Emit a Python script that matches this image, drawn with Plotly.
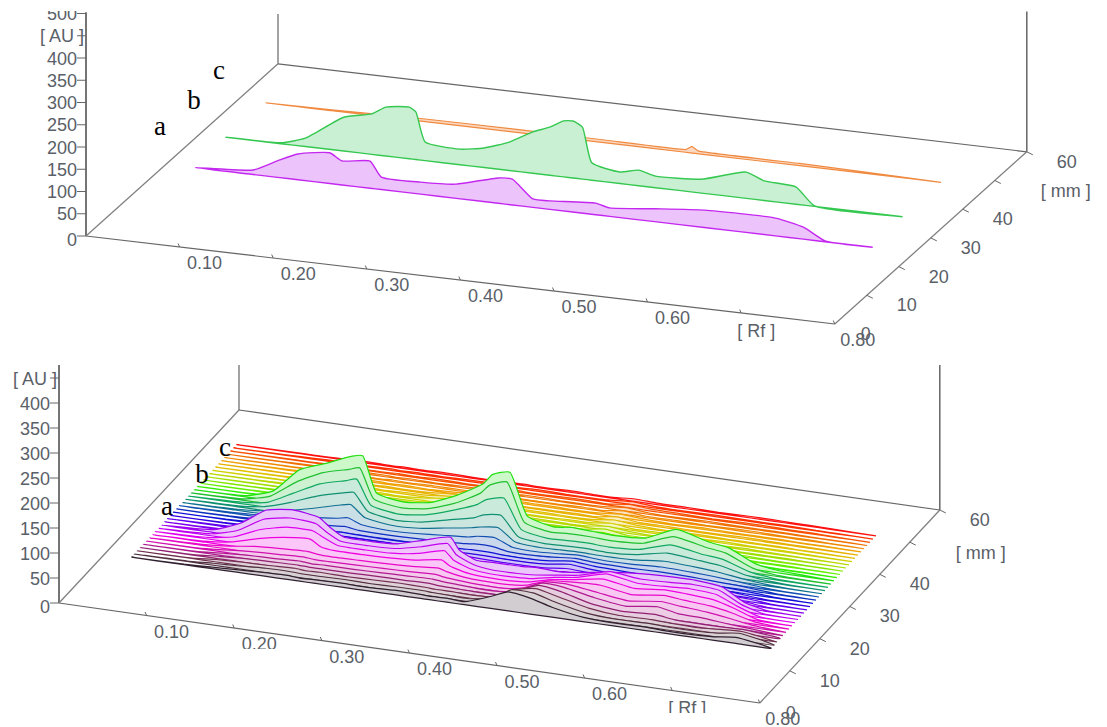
# -*- coding: utf-8 -*-
"""Two densitogram panels: selected tracks a, b, c on top, all tracks below."""
import plotly.graph_objects as go

# --- tick labels
AU_TICKS_TOP = [0, 50, 100, 150, 200, 250, 300, 350, 400, 500]
AU_TICKS_BOTTOM = [0, 50, 100, 150, 200, 250, 300, 350, 400]
RF_TICKS = [0.10, 0.20, 0.30, 0.40, 0.50, 0.60]
MM_TICKS = [10, 20, 30, 40, 60]

# --- top panel, the three selected tracks
MM_A = 25
MM_B = 35.5
MM_C = 47.5

RF_A = [0.031, 0.093, 0.119, 0.141, 0.175, 0.188, 0.218, 0.230, 0.272, 0.310, 0.355, 0.370, 0.392,
        0.410, 0.459, 0.474, 0.522, 0.575, 0.651, 0.681, 0.704, 0.755]
AU_A = [0, 10, 37, 58, 69, 54, 61, 28, 27, 32, 57, 58, 19, 19, 26, 19, 29, 39, 40, 27, 2, 0]

RF_B = [0.028, 0.087, 0.113, 0.154, 0.184, 0.199, 0.224, 0.231, 0.241, 0.278, 0.304, 0.331, 0.356,
        0.374, 0.389, 0.399, 0.409, 0.419, 0.449, 0.469, 0.487, 0.536, 0.584, 0.603, 0.637, 0.657, 0.751]
AU_B = [0, 2, 19, 76, 91, 110, 116, 107, 42, 35, 44, 64, 93, 108, 126, 128, 117, 39, 26, 35, 26, 31,
        59, 44, 39, 1, 0]

RF_C = [0.030, 0.100, 0.200, 0.300, 0.400, 0.478, 0.485, 0.492, 0.600, 0.700, 0.751]
AU_C = [0, 2, 6, 7, 6, 6, 15, 6, 5, 2, 0]

# --- bottom panel, all tracks on one Rf grid
RF_GRID = [0.03, 0.09, 0.12, 0.15, 0.18, 0.21, 0.222, 0.238, 0.27, 0.30, 0.33, 0.36, 0.37, 0.39,
           0.41, 0.44, 0.46, 0.485, 0.51, 0.545, 0.58, 0.617, 0.64, 0.67, 0.695, 0.72, 0.76]

TRACK_15 = [0, 1, 3, 5, 7, 8, 6, 7, 8, 7, 9, 8, 7, 8, 6, 24, 38, 32, 20, 9, 6, 7, 5, 5, 7, 12, 1]
TRACK_16 = [0, 1, 4, 6, 9, 9, 8, 8, 9, 8, 9, 9, 8, 7, 6, 14, 36, 36, 24, 11, 7, 8, 6, 6, 8, 14, 1]
TRACK_17 = [0, 1, 5, 7, 8, 10, 8, 9, 8, 9, 10, 9, 8, 8, 7, 10, 30, 38, 28, 14, 8, 9, 7, 6, 9, 11, 0]
TRACK_18 = [0, 1, 5, 8, 9, 10, 9, 9, 9, 10, 10, 11, 9, 8, 7, 8, 22, 38, 32, 16, 10, 13, 8, 7, 7, 8, 1]
TRACK_19 = [0, 1, 5, 8, 9, 11, 9, 10, 10, 11, 12, 13, 11, 9, 7, 8, 16, 36, 34, 22, 14, 22, 14, 12, 8, 5, 0]
TRACK_20 = [0, 1, 5, 9, 11, 13, 11, 11, 12, 13, 14, 16, 13, 10, 8, 8, 14, 32, 34, 26, 18, 26, 22, 18, 12, 5, 0]
TRACK_21 = [0, 2, 6, 13, 16, 18, 15, 14, 15, 16, 18, 22, 17, 11, 9, 9, 13, 28, 32, 34, 24, 32, 28, 24, 16, 5, 0]
TRACK_22 = [0, 2, 8, 22, 32, 36, 24, 20, 20, 21, 24, 32, 22, 13, 10, 10, 13, 24, 30, 40, 30, 36, 34, 30, 18, 3, 0]
TRACK_23 = [0, 3, 12, 34, 46, 46, 36, 24, 23, 24, 31, 44, 28, 15, 11, 11, 13, 22, 28, 44, 34, 36, 38, 34, 16, 2, 0]
TRACK_24 = [0, 4, 18, 48, 58, 54, 40, 26, 25, 27, 38, 52, 32, 17, 12, 12, 14, 20, 26, 42, 36, 38, 40, 36, 14, 2, 0]
TRACK_25 = [0, 6, 26, 60, 68, 60, 44, 28, 27, 30, 45, 58, 35, 19, 20, 20, 22, 20, 25, 34, 40, 42, 42, 36, 12, 2, 0]
TRACK_26 = [0, 2, 6, 14, 20, 20, 14, 14, 14, 14, 16, 18, 14, 10, 9, 10, 9, 14, 12, 10, 10, 9, 8, 8, 5, 1, 0]
TRACK_27 = [0, 2, 4, 7, 8, 9, 9, 8, 8, 8, 9, 10, 10, 9, 8, 8, 9, 14, 12, 10, 9, 9, 8, 7, 5, 1, 0]
TRACK_28 = [0, 1, 3, 5, 6, 7, 7, 7, 7, 7, 8, 9, 9, 9, 8, 8, 10, 16, 12, 9, 8, 8, 8, 7, 3, 1, 0]
TRACK_29 = [0, 1, 3, 4, 6, 7, 8, 7, 6, 7, 8, 9, 10, 10, 8, 8, 10, 16, 12, 10, 9, 9, 8, 6, 4, 1, 0]
TRACK_30 = [0, 1, 3, 5, 8, 11, 13, 9, 8, 9, 11, 13, 15, 15, 9, 9, 11, 15, 12, 11, 12, 11, 9, 7, 4, 1, 0]
TRACK_31 = [0, 2, 4, 8, 14, 20, 24, 14, 10, 12, 16, 20, 24, 26, 12, 10, 12, 15, 12, 12, 15, 13, 11, 7, 3, 1, 0]
TRACK_32 = [0, 2, 6, 14, 26, 40, 44, 22, 14, 16, 24, 32, 36, 40, 16, 12, 13, 14, 13, 14, 20, 17, 14, 7, 3, 1, 0]
TRACK_33 = [0, 2, 8, 24, 44, 58, 62, 28, 18, 22, 34, 46, 54, 58, 20, 14, 15, 16, 14, 18, 30, 24, 20, 8, 3, 1, 0]
TRACK_34 = [0, 3, 10, 36, 62, 76, 82, 34, 24, 30, 46, 66, 78, 86, 28, 18, 19, 20, 18, 22, 40, 30, 26, 9, 3, 1, 0]
TRACK_35 = [0, 3, 16, 52, 78, 92, 98, 40, 30, 36, 54, 82, 100, 112, 36, 24, 26, 26, 24, 28, 50, 38, 32, 10, 3, 1, 0]
TRACK_36 = [0, 3, 20, 70, 90, 112, 116, 45, 35, 42, 64, 95, 115, 125, 42, 28, 32, 30, 28, 32, 58, 42, 36, 12, 5, 3, 0]
TRACK_37 = [0, 1, 6, 30, 40, 46, 50, 12, 5, 5, 12, 30, 50, 55, 8, 4, 4, 8, 6, 4, 6, 5, 3, 2, 1, 1, 0]
TRACK_38 = [0, 1, 2, 4, 5, 5, 4, 3, 2, 3, 3, 3, 3, 3, 2, 2, 3, 9, 4, 3, 3, 3, 2, 2, 2, 1, 0]
TRACK_39 = [0, 1, 2, 3, 2, 3, 2, 3, 2, 3, 2, 3, 3, 2, 3, 2, 3, 9, 4, 2, 3, 2, 3, 2, 1, 1, 0]
TRACK_40 = [0, 1, 1, 2, 3, 2, 3, 2, 4, 8, 4, 2, 3, 2, 2, 3, 3, 9, 3, 3, 2, 3, 2, 2, 2, 1, 0]
TRACK_41 = [0, 1, 2, 2, 2, 3, 2, 3, 4, 10, 5, 2, 2, 3, 3, 2, 3, 8, 4, 2, 3, 2, 3, 2, 1, 1, 0]
TRACK_42 = [0, 1, 1, 2, 3, 2, 3, 2, 5, 11, 5, 3, 2, 2, 2, 3, 3, 8, 3, 3, 2, 3, 2, 2, 2, 1, 0]
TRACK_43 = [0, 1, 2, 3, 2, 3, 2, 3, 4, 9, 4, 2, 3, 3, 3, 2, 3, 8, 4, 2, 3, 2, 2, 2, 1, 1, 0]
TRACK_44 = [0, 1, 1, 2, 3, 2, 3, 2, 3, 7, 3, 3, 2, 2, 2, 3, 2, 8, 3, 3, 2, 3, 3, 2, 2, 1, 0]
TRACK_45 = [0, 1, 2, 2, 2, 3, 2, 3, 2, 4, 3, 2, 3, 3, 3, 2, 3, 7, 4, 2, 3, 2, 2, 2, 1, 1, 0]
TRACK_46 = [0, 1, 1, 3, 2, 2, 3, 2, 3, 3, 2, 3, 2, 2, 2, 3, 2, 7, 3, 3, 2, 3, 3, 2, 2, 1, 0]
TRACK_47 = [0, 1, 2, 2, 3, 3, 2, 3, 2, 3, 3, 2, 3, 3, 2, 2, 3, 7, 3, 2, 3, 2, 2, 2, 1, 1, 0]
TRACK_48 = [0, 1, 1, 2, 2, 2, 3, 2, 3, 2, 2, 3, 2, 2, 3, 3, 2, 7, 4, 3, 2, 3, 3, 2, 2, 1, 0]
TRACK_49 = [0, 1, 2, 3, 2, 3, 2, 3, 2, 3, 3, 2, 3, 3, 2, 2, 3, 6, 3, 2, 3, 2, 2, 2, 1, 1, 0]
TRACK_50 = [0, 1, 1, 2, 3, 2, 3, 2, 3, 2, 2, 3, 2, 2, 3, 2, 2, 5, 3, 3, 2, 3, 3, 2, 2, 1, 0]

TRACKS = [TRACK_15, TRACK_16, TRACK_17, TRACK_18, TRACK_19, TRACK_20, TRACK_21, TRACK_22, TRACK_23,
          TRACK_24, TRACK_25, TRACK_26, TRACK_27, TRACK_28, TRACK_29, TRACK_30, TRACK_31, TRACK_32,
          TRACK_33, TRACK_34, TRACK_35, TRACK_36, TRACK_37, TRACK_38, TRACK_39, TRACK_40, TRACK_41,
          TRACK_42, TRACK_43, TRACK_44, TRACK_45, TRACK_46, TRACK_47, TRACK_48, TRACK_49, TRACK_50]
TRACK_MM = [15.4, 16.4, 17.4, 18.4, 19.4, 20.4, 21.4, 22.4, 23.4, 24.4, 25.4, 26.4, 27.4, 28.4, 29.4,
            30.4, 31.4, 32.4, 33.4, 34.4, 35.4, 36.4, 37.4, 38.4, 39.4, 40.4, 41.4, 42.4, 43.4, 44.4,
            45.4, 46.4, 47.4, 48.4, 49.4, 50.4]

# --- styling, front track first
TRACK_COLORS = ["#302030", "#503040", "#703050", "#902070", "#b01890", "#d010b0", "#e808c8", "#f000e0",
                "#e000f0", "#c000f0", "#a000f0", "#8000f0", "#6000f0", "#3000e0", "#1010d8", "#1030c0",
                "#1050b0", "#107090", "#109070", "#10a860", "#20c030", "#20e010", "#30f000", "#60f000",
                "#80e800", "#a0e000", "#b8d800", "#d0d000", "#e0c000", "#e8b000", "#f0a000", "#f08800",
                "#f07000", "#f85000", "#ff3000", "#ff1010"]

TOP = dict(x0=86, y0=236, rf_dx=936, rf_dy=110, mm_dx=3.2, mm_dy=-2.87, au=-0.445,
           top=503, back_top=112, right_top=315, au_label_x=77)
BOTTOM = dict(x0=59, y0=603, rf_dx=876, rf_dy=125, mm_dx=3.0, mm_dy=-3.217, au=-0.5,
              top=476, back_top=90, right_top=290, au_label_x=50)
TEXT_COLOR = "#5a6068"
AXIS_COLOR = "#666666"
RF_END = 0.8
MM_END = 60
# the page body has an 8 px margin, the ranges take it out
PAGE_MARGIN = 8


def project(p, rf, mm, au):
    """Oblique projection of (Rf, mm, AU) onto the page."""
    return (p["x0"] + p["rf_dx"] * rf + p["mm_dx"] * mm,
            p["y0"] + p["rf_dy"] * rf + p["mm_dy"] * mm + p["au"] * au)


def tint(color, keep=0.22):
    r, g, b = (int(color[i:i + 2], 16) for i in (1, 3, 5))
    return "rgb(%d,%d,%d)" % tuple(255 - (255 - c) * keep for c in (r, g, b))


def add_segment(fig, p, start, end, width=1.2, color=AXIS_COLOR):
    a = project(p, *start)
    b = project(p, *end)
    fig.add_trace(go.Scatter(x=[a[0], b[0]], y=[a[1], b[1]], mode="lines",
                             line=dict(color=color, width=width), hoverinfo="skip"))


def add_label(fig, x, y, text, size=18, color=TEXT_COLOR, family="Liberation Sans", pos="middle center", dy=2):
    fig.add_trace(go.Scatter(x=[x], y=[y + dy], mode="text", text=[text], textposition=pos,
                             textfont=dict(size=size, color=color, family=family), hoverinfo="skip"))


def add_track(fig, p, mm, rf, au, color, fill, width=1.2, smoothing=0.5):
    xs, ys = [], []
    for r, v in zip(rf, au):
        x, y = project(p, r, mm, v)
        xs.append(x)
        ys.append(y)
    for r in reversed(rf):
        x, y = project(p, r, mm, 0)
        xs.append(x)
        ys.append(y)
    fig.add_trace(go.Scatter(x=xs, y=ys, mode="lines", fill="toself", fillcolor=fill,
                             line=dict(color=color, width=width, shape="spline", smoothing=smoothing),
                             hoverinfo="skip"))


def add_box(fig, p, au_ticks):
    # three uprights and the floor
    add_segment(fig, p, (0, 0, 0), (0, 0, p["top"]), 1.8)
    add_segment(fig, p, (0, MM_END, 0), (0, MM_END, p["back_top"]))
    add_segment(fig, p, (RF_END, MM_END, 0), (RF_END, MM_END, p["right_top"]), 1.5)
    add_segment(fig, p, (0, 0, 0), (RF_END, 0, 0))
    add_segment(fig, p, (0, 0, 0), (0, MM_END, 0), 1.3, "#808080")
    add_segment(fig, p, (0, MM_END, 0), (RF_END, MM_END, 0))
    add_segment(fig, p, (RF_END, 0, 0), (RF_END, MM_END, 0), 1.3, "#808080")

    for tick in au_ticks + [450]:
        x, y = project(p, 0, 0, tick)
        fig.add_trace(go.Scatter(x=[x - 9, x], y=[y, y], mode="lines",
                                 line=dict(color=AXIS_COLOR, width=1), hoverinfo="skip"))
        if tick != 450:
            add_label(fig, p["au_label_x"], y + (3 if tick == 0 else 0), str(tick), pos="middle left")
    x, y = project(p, 0, 0, 450)
    add_label(fig, x - 24, y, "[ AU ]")

    for tick in RF_TICKS + [0.70, RF_END]:
        x, y = project(p, tick, 0, 0)
        fig.add_trace(go.Scatter(x=[x, x - 1.5], y=[y, y - 3.5], mode="lines",
                                 line=dict(color=AXIS_COLOR, width=1), hoverinfo="skip"))
    for tick in RF_TICKS:
        x, y = project(p, tick, 0, 0)
        add_label(fig, x + 25, y + 15.5, "%.2f" % tick)
    x, y = project(p, 0.70, 0, 0)
    add_label(fig, x + 15, y + 17, "[ Rf ]")
    x, y = project(p, RF_END, 0, 0)
    add_label(fig, x + 23, y + 15, "0.80")
    add_label(fig, x + 31, y + 9, "0")

    for tick in MM_TICKS + [50]:
        x, y = project(p, RF_END, tick, 0)
        fig.add_trace(go.Scatter(x=[x, x + 6], y=[y, y + 3], mode="lines",
                                 line=dict(color=AXIS_COLOR, width=1), hoverinfo="skip"))
    for tick in MM_TICKS:
        x, y = project(p, RF_END, tick, 0)
        add_label(fig, x + 40, y + 9.5, str(tick))
    x, y = project(p, RF_END, 50, 0)
    add_label(fig, x + 71, y + 10, "[ mm ]")


fig = go.Figure()

# top panel
add_box(fig, TOP, AU_TICKS_TOP)
add_track(fig, TOP, MM_C, RF_C, AU_C, "#f08a40", "#fbd8c0", smoothing=0.2)
add_track(fig, TOP, MM_B, RF_B, AU_B, "#35c850", "#c9f0d2", width=1.4)
add_track(fig, TOP, MM_A, RF_A, AU_A, "#c428f0", "#ecc4fb", width=1.4)

# bottom panel, back to front so nearer tracks cover the ones behind
add_box(fig, BOTTOM, AU_TICKS_BOTTOM)
for mm, au, color in reversed(list(zip(TRACK_MM, TRACKS, TRACK_COLORS))):
    add_track(fig, BOTTOM, mm, RF_GRID, au, color, tint(color))

for x, y, text in [(160, 128, "a"), (194, 102, "b"), (219, 72, "c"),
                   (167, 508, "a"), (202, 476, "b"), (225, 449, "c")]:
    add_label(fig, x, y, text, size=27, color="black", family="Liberation Serif", dy=0)

# the source image crops some labels
masks = [(0, 0, 1107, 11), (232, 649, 290, 660), (870, 622, 920, 632), (660, 713, 720, 724)]

fig.update_layout(
    width=1107 - PAGE_MARGIN, height=727 - PAGE_MARGIN,
    margin=dict(l=0, r=0, t=0, b=0),
    showlegend=False,
    plot_bgcolor="white",
    paper_bgcolor="white",
    xaxis=dict(range=[PAGE_MARGIN, 1107], visible=False, fixedrange=True),
    yaxis=dict(range=[727, PAGE_MARGIN], visible=False, fixedrange=True),
    shapes=[dict(type="rect", x0=a, y0=b, x1=c, y1=d, fillcolor="white", line_width=0, layer="above")
            for a, b, c, d in masks],
)

fig.write_html("out.html")
